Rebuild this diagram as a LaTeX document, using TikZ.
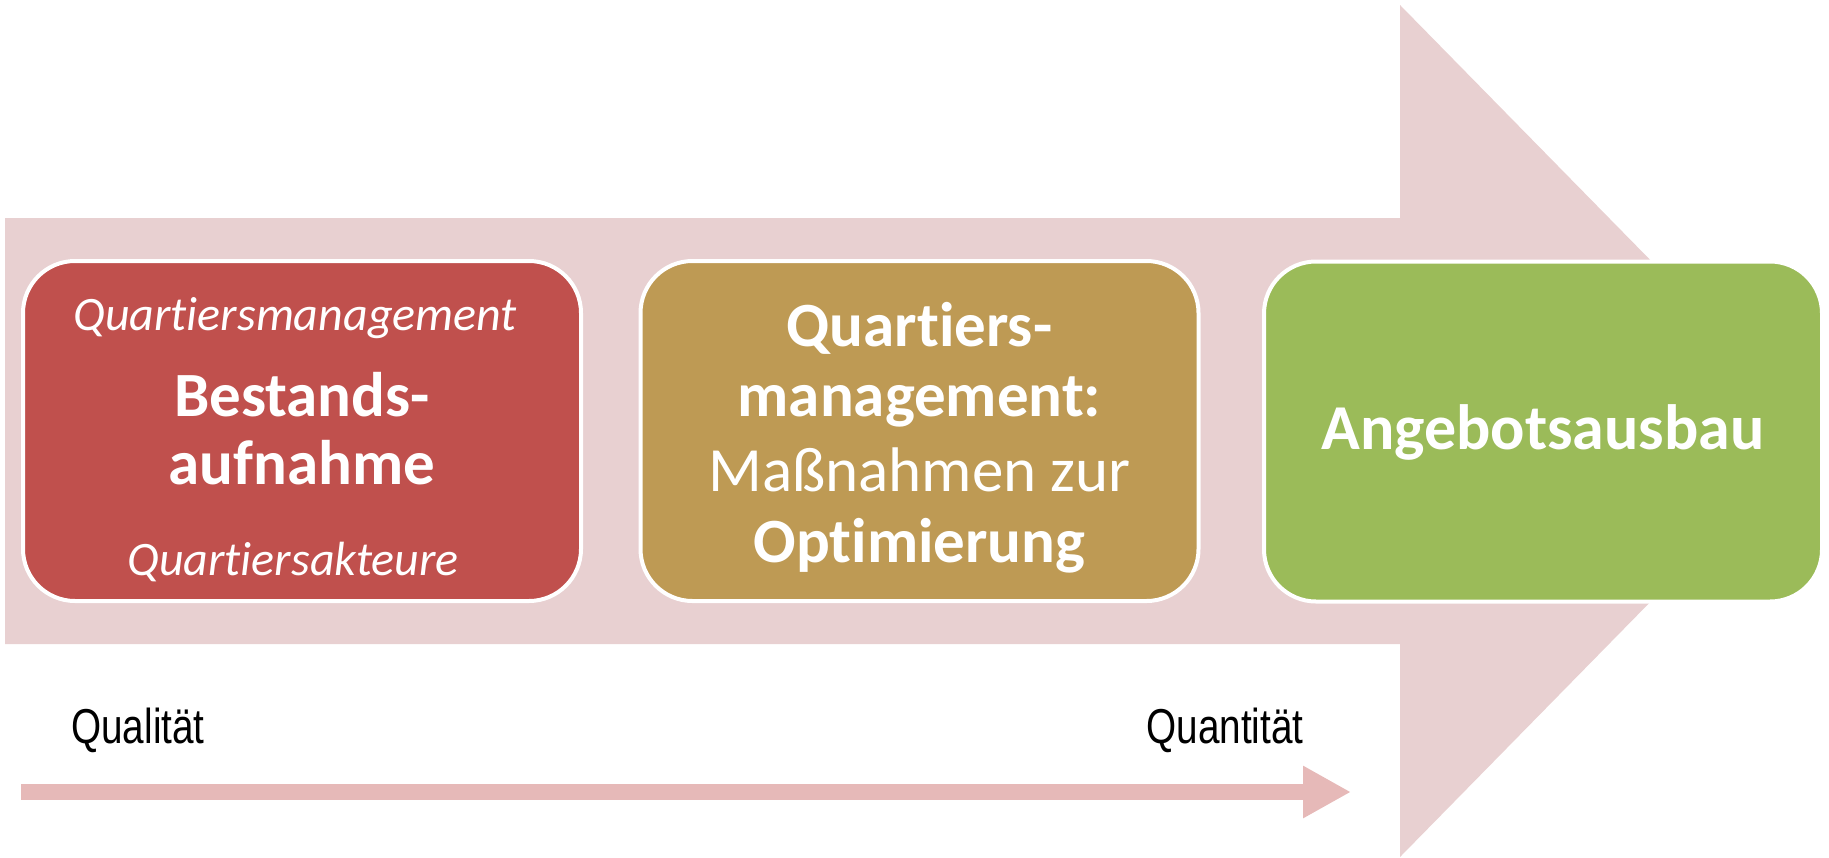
\documentclass[tikz,border=0pt]{standalone}
\usepackage{fontspec}
\setmainfont[Ligatures=NoCommon]{Carlito}
\newfontfamily\arialn[FakeStretch=0.79]{Liberation Sans}
\usetikzlibrary{arrows.meta}
\newcommand\nolig{\kern0pt }
\definecolor{bigarrow}{HTML}{E8D0D1}
\definecolor{smallarrow}{HTML}{E6B9B8}
\definecolor{redbox}{HTML}{C0504D}
\definecolor{goldbox}{HTML}{BE9A54}
\definecolor{greenbox}{HTML}{9BBB59}
\tikzset{
  stagebox/.style={draw=white, line width=2pt, rounded corners=26pt,
    minimum width=279pt, minimum height=170pt, inner sep=0pt},
  boxtext/.style={text=white, anchor=base, inner sep=0pt},
  it/.style={boxtext, font=\fontsize{24}{28}\selectfont\itshape},
  bd/.style={boxtext, font=\fontsize{31.5}{36}\selectfont\bfseries},
  rg/.style={boxtext, font=\fontsize{31.5}{36}\selectfont},
  axistext/.style={anchor=base, inner sep=0pt, text=black, font=\arialn\fontsize{24.5}{28}\selectfont}
}
\begin{document}
\begin{tikzpicture}[x=0.5pt, y=-0.5pt]
\useasboundingbox (0,0) rectangle (1829,857);
% big background arrow
\fill[bigarrow] (5,218) -- (1400,218) -- (1400,5) -- (1818,431) -- (1400,857)
  -- (1400,644) -- (5,644) -- cycle;
% stage boxes
\node[stagebox, fill=redbox] (b1) at (302,431) {};
\node[stagebox, fill=goldbox] (b2) at (919.5,431) {};
\node[stagebox, fill=greenbox] (b3) at (1543,431.5) {};
% box 1 text
\node[it] (t11) at (295,330) {Quart\nolig iersmanagement};
\node[bd] (t12) at (302,416) {Bestands-};
\node[bd] (t13) at (302,484) {aufnahme};
\node[it] (t14) at (293,575) {Quart\nolig iersakteure};
% box 2 text
\node[bd] (t21) at (919.5,346) {Quart\nolig iers-};
\node[bd] (t22) at (919.5,416) {management:};
\node[rg] (t23) at (919.5,491) {Maßnahmen zur};
\node[bd] (t24) at (919.5,562) {Opt\nolig imierung};
% box 3 text
\node[bd, font=\fontsize{32}{36}\selectfont\bfseries] (t31) at (1543,449) {Angebotsausbau};
% quality/quantity axis
\node[axistext] (ql) at (138,743) {Qualität};
\node[axistext] (qn) at (1225,743) {Quantität};
\coordinate (qs) at (21,792);
\coordinate (qe) at (1351,792);
\draw[smallarrow, line width=8pt, -{Triangle[length=24pt, width=24.5pt]}] (qs) -- (qe);
\end{tikzpicture}
\end{document}
